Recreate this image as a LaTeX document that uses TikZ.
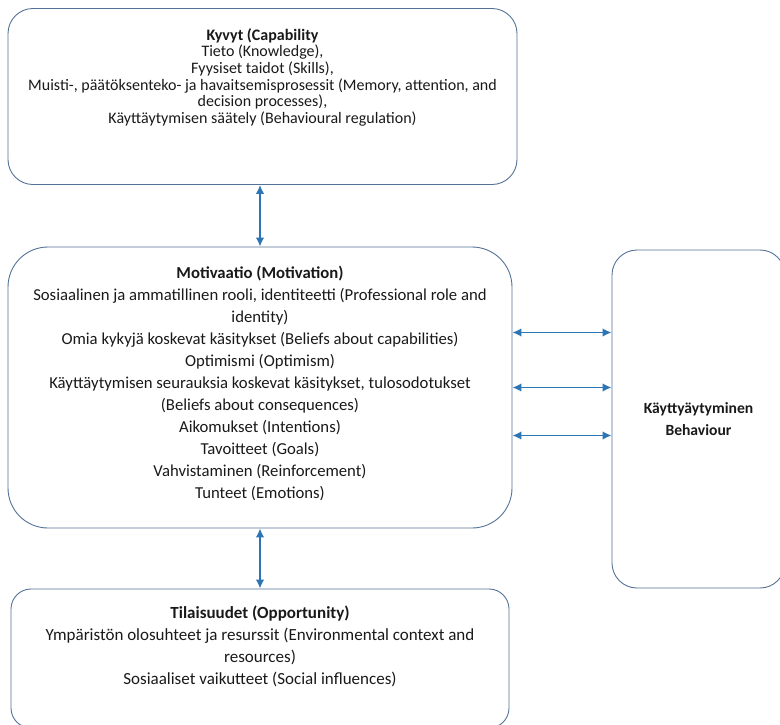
\documentclass[tikz,border=0pt]{standalone}
\usepackage{fontspec}
\setmainfont{Carlito}
\usetikzlibrary{arrows.meta,positioning}

\definecolor{boxline}{RGB}{84,114,150}
\definecolor{linkblue}{RGB}{46,117,182}

\tikzset{
	box/.style={draw=boxline, line width=0.9pt, rounded corners=#1, inner sep=0pt, minimum width=0pt},
	boxtext/.style={align=center, font=\fontsize{16.7}{22}\selectfont, text=black!90, inner sep=0pt},
	tighttext/.style={boxtext, font=\fontsize{16}{16.7}\selectfont},
	wide/.style={boxtext, font=\fontsize{17}{22}\selectfont},
	link/.style={{Latex[length=9pt,width=8.5pt]}-{Latex[length=9pt,width=8.5pt]}, linkblue, line width=1.5pt}
}

\begin{document}
\begin{tikzpicture}[x=1pt, y=-1pt]

				\useasboundingbox (0,0) rectangle (780,724);
				\clip (0,0) rectangle (780,724);

				\node[box=25pt, minimum width=509pt, minimum height=176pt] (kyvyt) at (262.5,96.5) {};
				\node[box=40pt, minimum width=504pt, minimum height=281pt] (motivaatio) at (260,387.5) {};
				\node[box=25pt, minimum width=173pt, minimum height=338pt] (kayttaytyminen) at (698.5,419) {};
				\node[box=20pt, minimum width=498pt, minimum height=139pt] (tilaisuudet) at (260,658.5) {};

				\node[tighttext, below=20pt of kyvyt.north] (kyvytteksti)
					{\textbf{Kyvyt (Capability}\\
					Tieto (Knowledge),\\
					Fyysiset taidot (Skills),\\
					Muisti-, päätöksenteko- ja havaitsemisprosessit (Memory, attention, and\\
					decision processes),\\
					Käyttäytymisen säätely (Behavioural regulation)};
				\node[boxtext, below=19.5pt of motivaatio.north] (motivaatioteksti)
					{\textbf{Motivaatio (Motivation)}\\
					Sosiaalinen ja ammatillinen rooli, identiteetti (Professional role and\\
					identity)\\
					Omia kykyjä koskevat käsitykset (Beliefs about capabilities)\\
					Optimismi (Optimism)\\
					Käyttäytymisen seurauksia koskevat käsitykset, tulosodotukset\\
					(Beliefs about consequences)\\
					Aikomukset (Intentions)\\
					Tavoitteet (Goals)\\
					Vahvistaminen (Reinforcement)\\
					Tunteet (Emotions)};
				\node[wide, below=17pt of tilaisuudet.north] (tilaisuudetteksti)
					{\textbf{Tilaisuudet (Opportunity)}\\
					Ympäristön olosuhteet ja resurssit (Environmental context and\\
					resources)\\
					Sosiaaliset vaikutteet (Social influences)};
				\node[boxtext, font=\fontsize{15.6}{22}\selectfont] (kayttaytyminenteksti) at (kayttaytyminen.center)
					{\textbf{Käyttyäytyminen}\\ \textbf{Behaviour}};

				\draw[link] (motivaatio.north |- kyvyt.south) -- (motivaatio.north);
				\draw[link] (motivaatio.south) -- (tilaisuudet.north);
				\foreach \dy [count=\i] in {55,0,-48}
				{
					\coordinate (m\i) at ([yshift=\dy pt]motivaatio.east);
					\draw[link] (m\i) -- (m\i -| kayttaytyminen.west);
				}
\end{tikzpicture}
\end{document}
